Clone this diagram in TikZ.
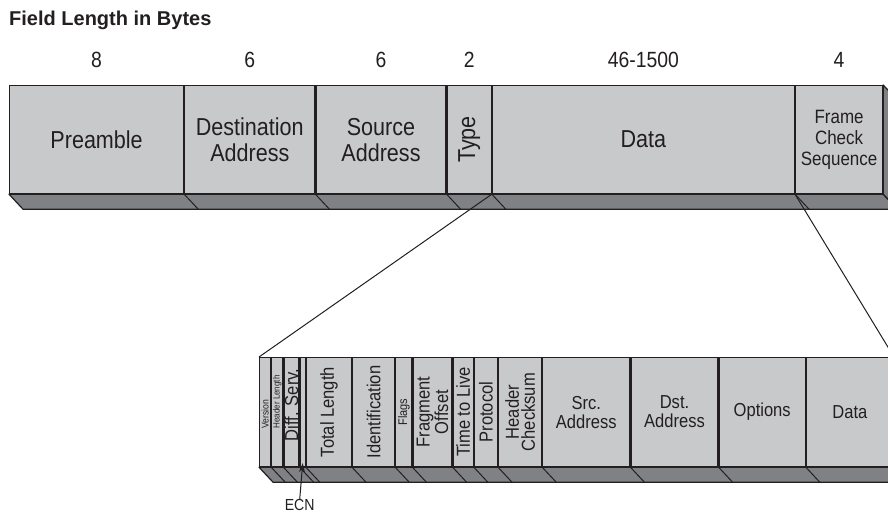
\documentclass[tikz,border=0pt]{standalone}
\usepackage{fontspec}
\setmainfont{Liberation Sans}[FakeStretch=0.88]
\newfontfamily\titlefont{Liberation Sans}
\usepackage{tikz}
\usetikzlibrary{positioning}
\usetikzlibrary{arrows.meta}
\definecolor{facegray}{HTML}{C8C9CB}
\definecolor{stripgray}{HTML}{808184}
\definecolor{linegray}{HTML}{231F20}

\begin{document}
\begin{tikzpicture}[x=1pt, y=-1pt,
	box/.style={draw=linegray, fill=facegray, line width=1.2pt, inner sep=0pt, align=center, anchor=north west, text=linegray},
	framebox/.style={box, minimum height=108pt, font=\fontsize{24.5}{26}\selectfont},
	ipbox/.style={box, minimum height=109pt, font=\fontsize{18.8}{19}\selectfont},
	vtext/.style={rotate=90, inner sep=0pt, align=center, text=linegray, font=\fontsize{18.8}{16}\selectfont},
	bytes/.style={inner sep=0pt, text=linegray, font=\fontsize{22}{24}\selectfont},
	strip/.style={draw=linegray, fill=stripgray, line width=1.2pt, line join=round},
	slant/.style={draw=linegray, line width=1pt}]
	\useasboundingbox (0,0) rectangle (888,513);

	\node[anchor=west, inner sep=0pt, text=linegray, font=\titlefont\bfseries\fontsize{20}{24}\selectfont] (title) at (9,20) {Field Length in Bytes};

	% ethernet frame
	\node[framebox, minimum width=174pt] (pre) at (9,85) {Preamble};
	\node[framebox, minimum width=130pt, right=0pt of pre] (dst) {Destination\\Address};
	\node[framebox, minimum width=130pt, right=0pt of dst] (src) {Source\\Address};
	\node[framebox, minimum width=44pt, right=0pt of src] (type) {};
	\node[framebox, minimum width=302pt, right=0pt of type] (data) {Data};
	\node[framebox, minimum width=87pt, right=0pt of data, font=\fontsize{19.3}{21}\selectfont] (fcs) {Frame\\Check\\Sequence};
	\node[vtext, font=\fontsize{24.5}{26}\selectfont] (typetext) at (type.center) {Type};

	\draw[strip] (pre.south west) -- (fcs.south east) -- ++(14,15) -- ([shift={(14,15)}]pre.south west) -- cycle;
	\draw[strip] (fcs.north east) -- ++(14,15) -- ++(0,108) -- (fcs.south east) -- cycle;
	\draw[slant] (dst.south west) -- ++(14,15) (src.south west) -- ++(14,15) (type.south west) -- ++(14,15)
		(data.south west) -- ++(14,15) (fcs.south west) -- ++(14,15);

	\node[bytes, above=17pt of pre] (npre) {8};
	\node[bytes, above=17pt of dst] (ndst) {6};
	\node[bytes, above=17pt of src] (nsrc) {6};
	\node[bytes, above=17pt of type] (ntype) {2};
	\node[bytes, above=17pt of data] (ndata) {46-1500};
	\node[bytes, above=17pt of fcs] (nfcs) {4};

	% ip packet
	\node[ipbox, minimum width=11pt] (ver) at (259,357) {};
	\node[ipbox, minimum width=11pt, right=0pt of ver] (hlen) {};
	\node[ipbox, minimum width=15pt, right=0pt of hlen] (dsrv) {};
	\node[ipbox, minimum width=5pt, right=0pt of dsrv] (ecn) {};
	\node[ipbox, minimum width=45pt, right=0pt of ecn] (tlen) {};
	\node[ipbox, minimum width=42pt, right=0pt of tlen] (ident) {};
	\node[ipbox, minimum width=16pt, right=0pt of ident] (flags) {};
	\node[ipbox, minimum width=39pt, right=0pt of flags] (frag) {};
	\node[ipbox, minimum width=20pt, right=0pt of frag] (ttl) {};
	\node[ipbox, minimum width=23pt, right=0pt of ttl] (proto) {};
	\node[ipbox, minimum width=43pt, right=0pt of proto] (hchk) {};
	\node[ipbox, minimum width=87pt, right=0pt of hchk] (srca) {Src.\\Address};
	\node[ipbox, minimum width=87pt, right=0pt of srca] (dsta) {Dst.\\Address};
	\node[ipbox, minimum width=86pt, right=0pt of dsta] (opts) {Options};
	\node[ipbox, minimum width=87pt, right=0pt of opts] (ipdata) {Data};

	\node[vtext, anchor=west, font=\fontsize{9.8}{9}\selectfont] (vertext) at ([yshift=-16.5pt]ver.center) {Version};
	\node[vtext, anchor=west, font=\fontsize{9.1}{9}\selectfont] (hlentext) at ([yshift=-16.5pt]hlen.center) {Header Length};
	\node[vtext] (dsrvtext) at ([yshift=7pt]dsrv.center) {Diff. Serv.};
	\node[vtext] (tlentext) at (tlen.center) {Total Length};
	\node[vtext] (identtext) at (ident.center) {Identification};
	\node[vtext, font=\fontsize{12.5}{12}\selectfont] (flagstext) at (flags.center) {Flags};
	\node[vtext] (fragtext) at (frag.center) {Fragment\\Offset};
	\node[vtext] (ttltext) at (ttl.center) {Time to Live};
	\node[vtext] (prototext) at (proto.center) {Protocol};
	\node[vtext] (hchktext) at (hchk.center) {Header\\Checksum};

	\draw[strip] (ver.south west) -- (ipdata.south east) -- ++(14,15) -- ([shift={(14,15)}]ver.south west) -- cycle;
	\draw[strip] (ipdata.north east) -- ++(14,15) -- ++(0,109) -- (ipdata.south east) -- cycle;
	\draw[slant] (hlen.south west) -- ++(14,15) (dsrv.south west) -- ++(14,15) (ecn.south west) -- ++(14,15)
		(tlen.south west) -- ++(14,15) (ident.south west) -- ++(14,15) (flags.south west) -- ++(14,15)
		(frag.south west) -- ++(14,15) (ttl.south west) -- ++(14,15) (proto.south west) -- ++(14,15)
		(hchk.south west) -- ++(14,15) (srca.south west) -- ++(14,15) (dsta.south west) -- ++(14,15)
		(opts.south west) -- ++(14,15) (ipdata.south west) -- ++(14,15);

	% zoom lines
	\draw[slant] (type.south east) -- (ver.north west);
	\draw[slant] (fcs.south west) -- (ipdata.north east);

	\node[inner sep=0pt, text=linegray, font=\fontsize{16}{16}\selectfont] (ecntext) at ([xshift=-3pt, yshift=-38pt]ecn.south) {ECN};
	\coordinate (ecntip) at ([yshift=4pt]ecn.south);
	\draw[-{Stealth[length=9pt, width=6pt]}, slant] (ecntext.north) -- (ecntip);
\end{tikzpicture}
\end{document}
